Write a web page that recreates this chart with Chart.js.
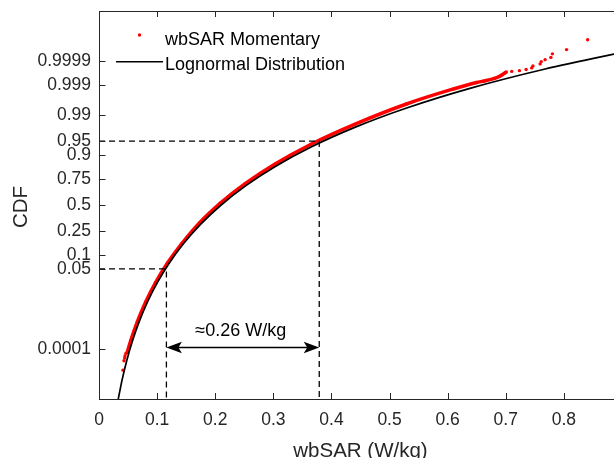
<!DOCTYPE html>
<html>
<head>
<meta charset="utf-8">
<script src="https://cdn.jsdelivr.net/npm/chart.js@4.4.1/dist/chart.umd.min.js"></script>
<style>
  html, body { margin: 0; padding: 0; overflow: hidden; background: #fff; }
  canvas { display: block; }
</style>
</head>
<body>
<canvas id="cdf" width="660" height="458"></canvas>
<script>
// ---- data -------------------------------------------------------------
// Fitted lognormal distribution (wbSAR in W/kg, cumulative probability)
const lognormalSar = [0.03313, 0.03985, 0.04793, 0.05766, 0.06937, 0.08345, 0.10038, 0.12075, 0.14526, 0.17470,
                      0.21018, 0.25281, 0.30412, 0.36583, 0.44007, 0.52934, 0.63680, 0.76600, 0.92146];
const lognormalCdf = [2.87e-7, 3.40e-6, 3.17e-5, 2.33e-4, 1.35e-3, 6.21e-3, 0.02275, 0.0668, 0.1587, 0.3085,
                      0.5, 0.6915, 0.8413, 0.9332, 0.97725, 0.99379, 0.99865, 0.999767, 0.9999683];

// Empirical CDF of momentary wbSAR: dense body of the sample
const bodySar = [0.0485, 0.0545, 0.0662, 0.0803, 0.0973, 0.1176, 0.1422, 0.1728, 0.2084, 0.2514, 0.3030,
                 0.3649, 0.4397, 0.5291, 0.6100, 0.6500, 0.6633, 0.6805, 0.6903, 0.6989, 0.7010];
const bodyCdf = [0.0000726, 0.000233, 0.00135, 0.00621, 0.0228, 0.0667, 0.1588, 0.3220, 0.5175, 0.7088, 0.8545,
                 0.9412, 0.98107, 0.99538, 0.99861, 0.999207, 0.999306, 0.999447, 0.99956, 0.999674, 0.999698];
// lowest and highest individual samples
const lowTailSar = [0.0413, 0.0430, 0.0442, 0.0447, 0.0463];
const lowTailCdf = [0.0000104, 0.0000300, 0.0000400, 0.0000497, 0.0000650];
const highTailSar = [0.7102, 0.7235, 0.7350, 0.7446, 0.7467, 0.7591, 0.7610, 0.7677, 0.7776, 0.7802, 0.8046, 0.8409];
const highTailCdf = [0.999712, 0.999733, 0.999762, 0.999795, 0.999831, 0.999862, 0.999890, 0.999910, 0.999929,
                     0.999951, 0.999969, 0.9999898];

// 5 % and 95 % quantiles of wbSAR
const quantileLevels = [0.05, 0.95];
const quantileSar = [0.1160, 0.3790];
const spanMarkerCdf = 0.00012;

// axis ticks
const xTickValues = [0, 0.1, 0.2, 0.3, 0.4, 0.5, 0.6, 0.7, 0.8];
const xTickLabels = ['0', '0.1', '0.2', '0.3', '0.4', '0.5', '0.6', '0.7', '0.8'];
const yTickLabels = ['0.0001', '0.05', '0.1', '0.25', '0.5', '0.75', '0.9', '0.95', '0.99', '0.999', '0.9999'];

// ---- normal probability scale ----------------------------------------
function probit(p) {
  const a = [-3.969683028665376e+01, 2.209460984245205e+02, -2.759285104469687e+02, 1.383577518672690e+02, -3.066479806614716e+01, 2.506628277459239e+00];
  const b = [-5.447609879822406e+01, 1.615858368580409e+02, -1.556989798598866e+02, 6.680131188771972e+01, -1.328068155288572e+01];
  const c = [-7.784894002430293e-03, -3.223964580411365e-01, -2.400758277161838e+00, -2.549671010029134e+00, 4.374664141464968e+00, 2.938163982698783e+00];
  const d = [7.784695709041462e-03, 3.224671290700398e-01, 2.445134137142996e+00, 3.754408661907416e+00];
  const pl = 0.02425, ph = 1 - pl;
  let q, r;
  if (p < pl) {
    q = Math.sqrt(-2 * Math.log(p));
    return (((((c[0]*q+c[1])*q+c[2])*q+c[3])*q+c[4])*q+c[5]) / ((((d[0]*q+d[1])*q+d[2])*q+d[3])*q+1);
  }
  if (p > ph) {
    q = Math.sqrt(-2 * Math.log(1 - p));
    return -(((((c[0]*q+c[1])*q+c[2])*q+c[3])*q+c[4])*q+c[5]) / ((((d[0]*q+d[1])*q+d[2])*q+d[3])*q+1);
  }
  q = p - 0.5; r = q * q;
  return (((((a[0]*r+a[1])*r+a[2])*r+a[3])*r+a[4])*r+a[5])*q / (((((b[0]*r+b[1])*r+b[2])*r+b[3])*r+b[4])*r+1);
}

const toPoints = (xs, ps) => xs.map((x, i) => ({ x, y: probit(ps[i]) }));

const AXIS = '#262626';
const FONT = '"Liberation Sans", Arial, sans-serif';

const lognormalPts = toPoints(lognormalSar, lognormalCdf);
const bodyPts = toPoints(bodySar, bodyCdf);
const samplePts = [...toPoints(lowTailSar, lowTailCdf), ...bodyPts, ...toPoints(highTailSar, highTailCdf)];

const guide = (i) => [
  { x: 0, y: probit(quantileLevels[i]) },
  { x: quantileSar[i], y: probit(quantileLevels[i]) },
  { x: quantileSar[i], y: -5 }
];

// frame, inward ticks, quantile span arrow, legend and axis titles
const decorations = {
  id: 'decorations',
  afterDatasetsDraw(chart) {
    const { ctx, chartArea: a, scales: { x, y } } = chart;
    ctx.save();
    ctx.strokeStyle = AXIS;
    ctx.lineWidth = 1;
    ctx.strokeRect(a.left + 0.5, a.top + 0.5, a.right - a.left, a.bottom - a.top);
    ctx.beginPath();
    xTickValues.forEach(v => {
      const px = Math.round(x.getPixelForValue(v)) + 0.5;
      ctx.moveTo(px, a.bottom); ctx.lineTo(px, a.bottom - 6);
      ctx.moveTo(px, a.top); ctx.lineTo(px, a.top + 6);
    });
    yTickLabels.forEach(l => {
      const py = Math.round(y.getPixelForValue(probit(parseFloat(l)))) + 0.5;
      ctx.moveTo(a.left, py); ctx.lineTo(a.left + 6.5, py);
    });
    ctx.stroke();

    // span between the two quantiles
    const ay = y.getPixelForValue(probit(spanMarkerCdf));
    const x1 = x.getPixelForValue(quantileSar[0]);
    const x2 = x.getPixelForValue(quantileSar[1]);
    ctx.strokeStyle = '#000';
    ctx.fillStyle = '#000';
    ctx.lineWidth = 1.6;
    ctx.beginPath();
    ctx.moveTo(x1 + 6, ay); ctx.lineTo(x2 - 6, ay);
    ctx.stroke();
    const head = (tip, dir) => {
      ctx.beginPath();
      ctx.moveTo(tip, ay);
      ctx.lineTo(tip + dir * 15.5, ay - 5.8);
      ctx.lineTo(tip + dir * 12, ay);
      ctx.lineTo(tip + dir * 15.5, ay + 5.8);
      ctx.closePath();
      ctx.fill();
    };
    head(x1, 1);
    head(x2, -1);
    ctx.font = '18px ' + FONT;
    ctx.textAlign = 'center';
    ctx.textBaseline = 'alphabetic';
    ctx.fillText('\u2248' + (quantileSar[1] - quantileSar[0]).toFixed(2) + ' W/kg', (x1 + x2) / 2 - 2, ay - 12);

    // legend
    ctx.textAlign = 'left';
    ctx.fillStyle = '#000';
    ctx.fillText('wbSAR Momentary', a.left + 66, a.top + 34);
    ctx.fillText('Lognormal Distribution', a.left + 66, a.top + 59);
    ctx.fillStyle = '#ff0000';
    ctx.beginPath();
    ctx.arc(a.left + 40.5, a.top + 24, 1.7, 0, Math.PI * 2);
    ctx.fill();
    ctx.strokeStyle = '#000';
    ctx.lineWidth = 1.6;
    ctx.beginPath();
    ctx.moveTo(a.left + 17, a.top + 50.7); ctx.lineTo(a.left + 64, a.top + 50.7);
    ctx.stroke();

    // axis titles
    ctx.fillStyle = AXIS;
    ctx.font = '20.5px ' + FONT;
    ctx.textAlign = 'center';
    ctx.fillText('wbSAR (W/kg)', (a.left + a.right) / 2, 456.5);
    ctx.translate(27, (a.top + a.bottom) / 2 + 2);
    ctx.rotate(-Math.PI / 2);
    ctx.fillText('CDF', 0, 0);
    ctx.restore();
  }
};

new Chart(document.getElementById('cdf'), {
  type: 'scatter',
  data: {
    datasets: [
      { label: 'guide05', data: guide(0), showLine: true, borderColor: '#000', borderWidth: 1.3,
        borderDash: [6, 4], pointRadius: 0, order: 0 },
      { label: 'guide95', data: guide(1), showLine: true, borderColor: '#000', borderWidth: 1.3,
        borderDash: [6, 4], pointRadius: 0, order: 0 },
      { label: 'Lognormal Distribution', data: lognormalPts, showLine: true, borderColor: '#000',
        borderWidth: 1.7, pointRadius: 0, cubicInterpolationMode: 'monotone', order: 1 },
      { label: 'wbSAR Momentary', data: samplePts, showLine: false, pointRadius: 1.7,
        pointBackgroundColor: '#ff0000', pointBorderWidth: 0, order: 2 },
      { label: 'body', data: bodyPts, showLine: true, borderColor: '#ff0000', borderWidth: 3.5,
        pointRadius: 0, cubicInterpolationMode: 'monotone', order: 3 }
    ]
  },
  options: {
    responsive: false,
    animation: false,
    events: [],
    layout: { padding: { left: 0, top: 11, right: 38, bottom: 0 } },
    plugins: { legend: { display: false }, tooltip: { enabled: false } },
    scales: {
      x: {
        type: 'linear', min: 0, max: 0.9,
        afterBuildTicks: s => { s.ticks = xTickValues.map(v => ({ value: v })); },
        afterFit: s => { s.height = 59; s.paddingLeft = 0; s.paddingRight = 0; },
        grid: { display: false, drawTicks: false },
        border: { display: false },
        ticks: { autoSkip: false, maxRotation: 0, padding: 11, color: AXIS,
                 font: { family: FONT, size: 17.5 }, callback: (v, i) => xTickLabels[i] }
      },
      y: {
        type: 'linear', min: -5, max: 5,
        afterBuildTicks: s => { s.ticks = yTickLabels.map(l => ({ value: probit(parseFloat(l)) })); },
        afterFit: s => { s.width = 99; s.paddingTop = 0; s.paddingBottom = 0; },
        grid: { display: false, drawTicks: false },
        border: { display: false },
        ticks: { autoSkip: false, padding: 8, color: AXIS,
                 font: { family: FONT, size: 17.5 }, callback: (v, i) => yTickLabels[i] }
      }
    }
  },
  plugins: [decorations]
});
</script>
</body>
</html>
